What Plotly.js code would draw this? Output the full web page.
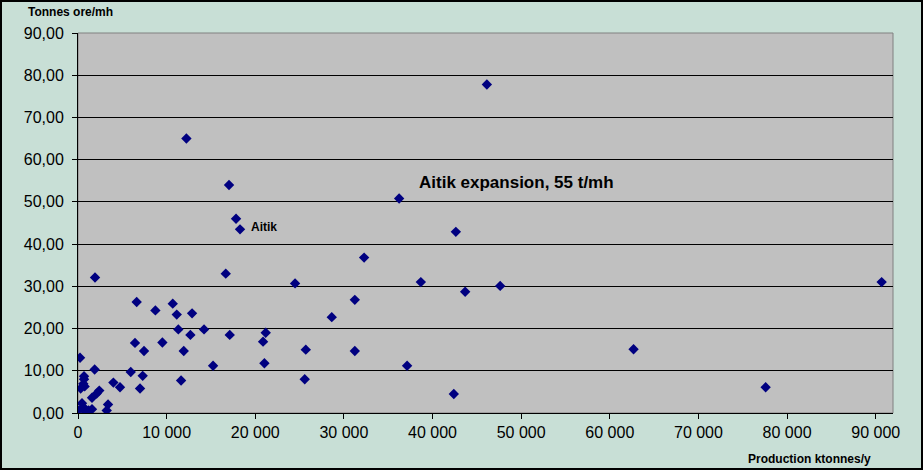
<!DOCTYPE html>
<html>
<head>
<meta charset="utf-8">
<script src="https://cdn.plot.ly/plotly-3.0.1.min.js"></script>
<style>
html,body{margin:0;padding:0;background:#C8DFD6;}
#frame{width:923px;height:470px;box-sizing:border-box;border:2px solid #000;background:#C8DFD6;}
#chart{width:919px;height:466px;}
</style>
</head>
<body>
<div id="frame"><div id="chart"></div></div>
<script>
// Production (ktonnes/y)
var production = [0, 450, 600, 830, 1200, 1580, 230, 1880, 680, 680, 600, 300, 750, 2400, 2110, 1580, 3390, 3240,
  3990, 4740, 5950, 7300, 7000, 6430, 7450, 1920, 6620, 8730, 9520, 10690, 11140, 12870, 11320, 14220, 12680,
  11930, 11630, 15240, 16670, 17120, 12230, 17040, 17830, 18280, 24490, 21180, 20880, 21030, 25700, 25580,
  28630, 31230, 32280, 31230, 36230, 37130, 38680, 42630, 42400, 43680, 47630, 46130, 62680, 77580, 90670];
// Tonnes ore per man-hour
var tonnesPerMh = [0.6, 2.3, 1.4, 0.3, 0.6, 0.9, 13.1, 10.3, 8.7, 8.0, 6.9, 5.8, 6.3, 5.3, 4.6, 3.6, 2.0, 0.6,
  7.2, 6.1, 9.7, 8.8, 5.8, 16.6, 14.7, 32.1, 26.3, 24.3, 16.7, 25.9, 23.3, 23.6, 19.8, 19.8, 18.5,
  14.7, 7.7, 11.2, 33.0, 18.5, 65.0, 54.0, 46.0, 43.5, 30.7, 19.0, 16.9, 11.8, 15.0, 8.0,
  22.7, 26.8, 36.8, 14.7, 50.8, 11.2, 31.0, 42.9, 4.5, 28.7, 30.1, 77.8, 15.1, 6.1, 31.0];

var xTickVals = [0, 10000, 20000, 30000, 40000, 50000, 60000, 70000, 80000, 90000];
var xTickText = ["0", "10 000", "20 000", "30 000", "40 000", "50 000", "60 000", "70 000", "80 000", "90 000"];
var yTickVals = [0, 10, 20, 30, 40, 50, 60, 70, 80, 90];
var yTickText = ["0,00", "10,00", "20,00", "30,00", "40,00", "50,00", "60,00", "70,00", "80,00", "90,00"];

var labels = [
  {text: "Aitik", x: 19300, y: 44.0, size: 12},
  {text: "Aitik expansion, 55 t/mh", x: 38200, y: 54.6, size: 17}
];

var font = "Liberation Sans, Arial, sans-serif";

var trace = {
  x: production, y: tonnesPerMh, type: "scatter", mode: "markers",
  marker: {symbol: "diamond", color: "#000080", size: 8},
  hoverinfo: "skip"
};

var annotations = labels.map(function (l) {
  return {x: l.x, y: l.y, xref: "x", yref: "y", text: "<b>" + l.text + "</b>", showarrow: false,
    xanchor: "left", yanchor: "middle", font: {family: font, size: l.size, color: "#000"}};
});
annotations.push({xref: "paper", yref: "paper", x: (24 - 76) / 815, y: 1 + (31 - 10) / 380,
  xanchor: "left", yanchor: "middle", showarrow: false, text: "<b>Tonnes ore/mh</b>",
  font: {family: font, size: 12, color: "#000"}});
annotations.push({xref: "paper", yref: "paper", x: (871 - 76) / 815, y: -(457 - 31 - 380) / 380,
  xanchor: "right", yanchor: "middle", showarrow: false, text: "<b>Production ktonnes/y</b>",
  font: {family: font, size: 12, color: "#000"}});

var layout = {
  width: 919, height: 466,
  margin: {l: 76, r: 28, t: 31, b: 55},
  paper_bgcolor: "#C8DFD6", plot_bgcolor: "#C0C0C0",
  showlegend: false,
  font: {family: font, size: 16, color: "#000"},
  xaxis: {range: [0, 91950], tickvals: xTickVals, ticktext: xTickText, showgrid: false, zeroline: false,
    showline: true, linecolor: "#000", linewidth: 1, ticks: "outside", ticklen: 5, tickcolor: "#000",
    tickfont: {family: font, size: 16, color: "#000"}},
  yaxis: {range: [0, 90], tickvals: yTickVals, ticktext: yTickText, showgrid: true, gridcolor: "#000",
    gridwidth: 1, zeroline: false, showline: true, linecolor: "#000", linewidth: 1, ticks: "outside",
    ticklen: 5, tickcolor: "#000", ticklabelstandoff: 5, tickfont: {family: font, size: 16, color: "#000"}},
  shapes: [{type: "rect", xref: "paper", yref: "paper", x0: 0, x1: 1, y0: 0, y1: 1,
    line: {color: "#808080", width: 1}, layer: "below"}],
  annotations: annotations
};

Plotly.newPlot("chart", [trace], layout, {displayModeBar: false, staticPlot: true});
</script>
</body>
</html>
